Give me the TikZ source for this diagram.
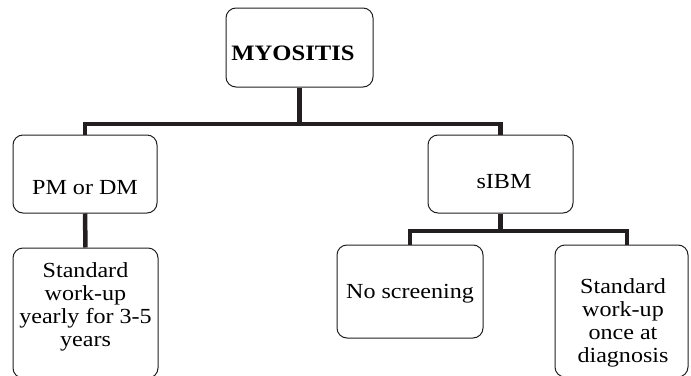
\documentclass[tikz,border=0pt]{standalone}
\usepackage{fontspec}
\setmainfont{Liberation Serif}[FakeStretch=1.12]
\definecolor{linkc}{HTML}{231F20}
\begin{document}
\begin{tikzpicture}[x=1pt,y=-1pt,
  box/.style={draw=linkc,line width=1pt,rounded corners=10pt,inner sep=0pt},
  conn/.style={draw=linkc,line width=4.5pt},
  txt/.style={inner sep=0pt,anchor=base,font=\fontsize{21.5}{23}\selectfont}]
\clip (0,0) rectangle (691,375);
\fill[white] (0,0) rectangle (691,375);
% boxes
\node[box,minimum width=147pt,minimum height=79pt] (myo) at (299.5,47.5) {};
\node[box,minimum width=144pt,minimum height=78pt] (pm) at (85,174) {};
\node[box,minimum width=145pt,minimum height=78pt] (sibm) at (500.5,174) {};
\node[box,minimum width=145pt,minimum height=130pt] (stdL) at (85.5,313) {};
\node[box,minimum width=146pt,minimum height=93pt] (nos) at (410,291.5) {};
\node[box,minimum width=133pt,minimum height=132pt] (stdR) at (621.5,311) {};
% texts
\node[txt,font=\fontsize{22}{26}\selectfont\bfseries] (myot) at (293,60) {MYOSITIS};
\node[txt] (pmt) at (85,194) {PM or DM};
\node[txt] (sibmt) at (504,188) {sIBM};
\node[txt] (stdLt) at (85.5,277) {\begin{tabular}[t]{@{}c@{}}Standard\\work-up\\yearly for 3-5\\years\end{tabular}};
\node[txt] (nost) at (410,298) {No screening};
\node[txt] (stdRt) at (623,293) {\begin{tabular}[t]{@{}c@{}}Standard\\work-up\\once at\\diagnosis\end{tabular}};
% connectors
\coordinate (bar) at (299.5,124);
\coordinate (bar2) at (500.5,231);
\draw[conn] (myo.south) -- (bar);
\draw[conn] (pm.north) |- (bar) -| (sibm.north);
\draw[conn] (pm.south) -- (stdL.north);
\draw[conn] (sibm.south) -- (bar2);
\draw[conn] (nos.north) |- (bar2) -| ([xshift=5.5pt]stdR.north);
\end{tikzpicture}
\end{document}
